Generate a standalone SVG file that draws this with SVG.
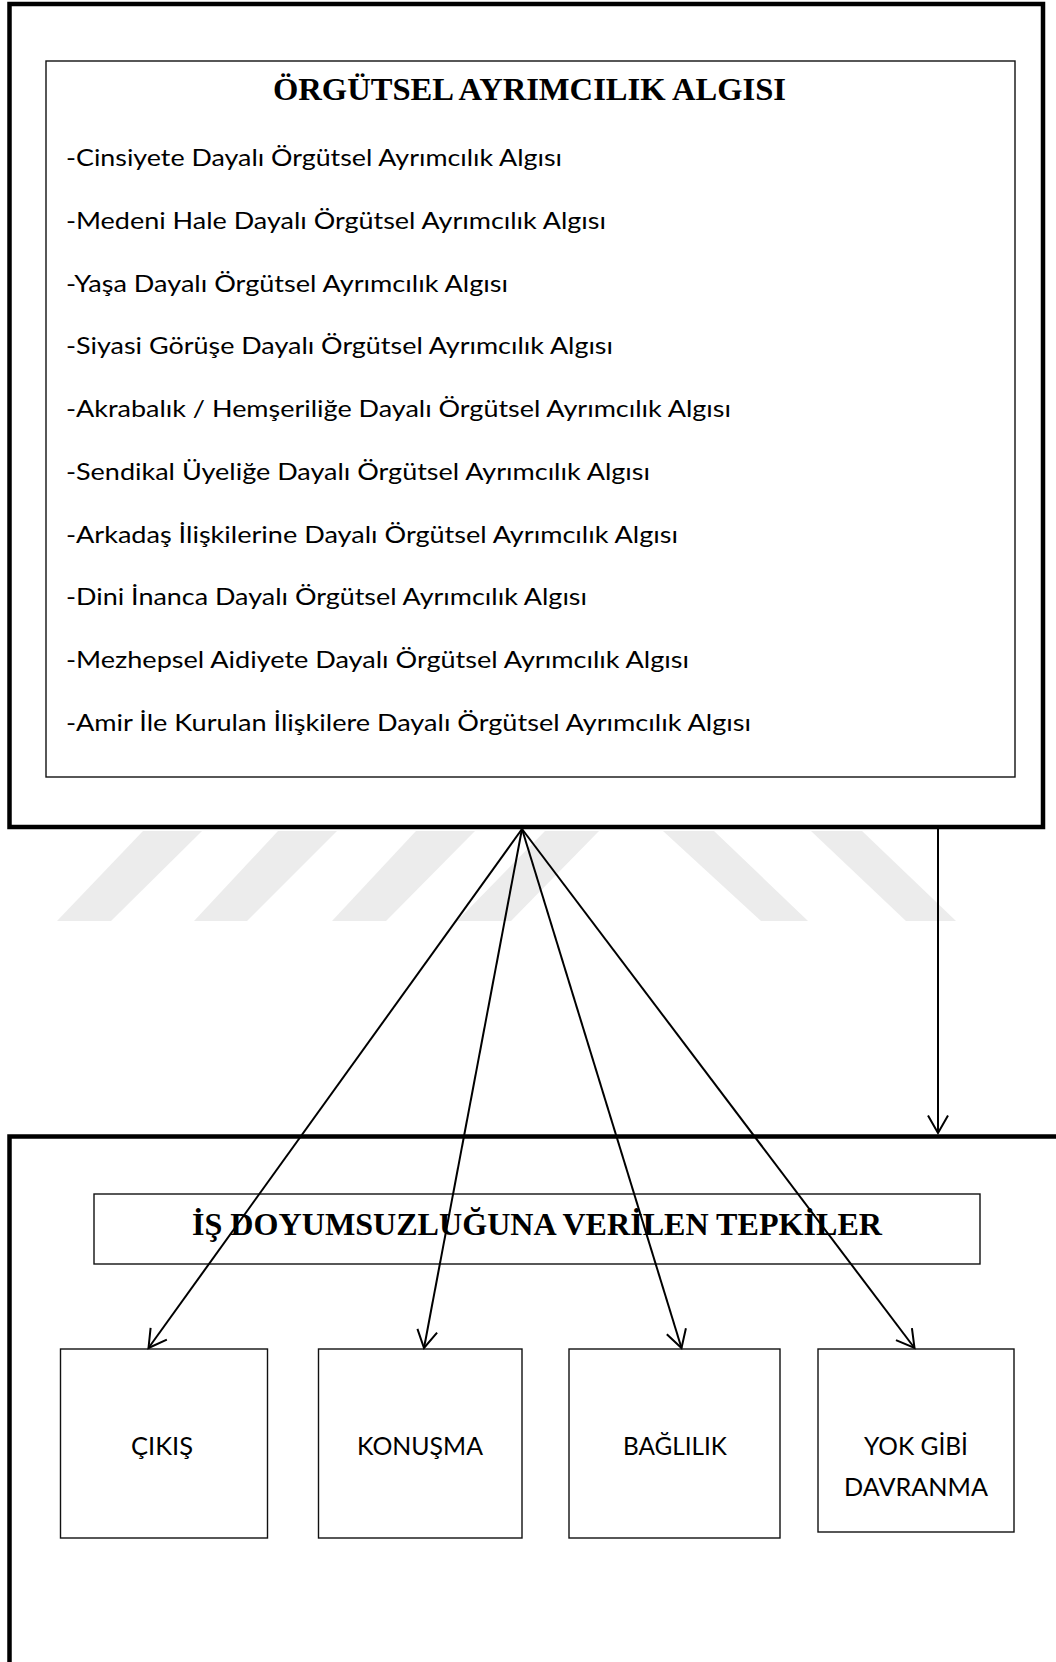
<svg xmlns="http://www.w3.org/2000/svg" width="1056" height="1662" viewBox="0 0 1056 1662">
<style>
.outer{fill:none;stroke:#000;stroke-width:4.5}
.box{fill:#fff;stroke:#111;stroke-width:1.4}
.title{font-family:"Liberation Serif","Times New Roman",serif;font-weight:bold;font-size:32.5px;fill:#000}
.item{font-family:Lato,"Open Sans",sans-serif;font-size:23px;fill:#000}
.lbl{font-family:Lato,"Open Sans",sans-serif;font-size:25px;fill:#000;text-anchor:middle}
.wm{fill:#ececec}
.conn{fill:none;stroke:#000;stroke-width:2}
</style>
<defs>
<marker id="vee" markerUnits="userSpaceOnUse" markerWidth="40" markerHeight="40" refX="0" refY="0" viewBox="-25 -20 40 40" orient="auto" overflow="visible">
<path d="M-17.5,-10 L0,0 L-17.5,10" fill="none" stroke="#000" stroke-width="2"/>
</marker>
</defs>
<rect width="1056" height="1662" fill="#fff"/>
<g id="watermark">
<polygon class="wm" points="143,831 202,831 111,921 57,921"/>
<polygon class="wm" points="278,831 337,831 247,921 194,921"/>
<polygon class="wm" points="416,831 475,831 386,921 332,921"/>
<polygon class="wm" points="545,831 599,831 511,921 457,921"/>
<polygon class="wm" points="663,831 714,831 808,921 761,921"/>
<polygon class="wm" points="811,831 862,831 956,921 906,921"/>
</g>
<g id="node-orgutsel">
<rect class="outer" x="9.5" y="4" width="1033.5" height="823"/>
<rect class="box" x="46" y="61" width="969" height="716"/>
<text class="title" x="273" y="100" textLength="513" lengthAdjust="spacingAndGlyphs">ÖRGÜTSEL AYRIMCILIK ALGISI</text>
<text class="item" x="66" y="166" textLength="496" lengthAdjust="spacingAndGlyphs">-Cinsiyete Dayalı Örgütsel Ayrımcılık Algısı</text>
<text class="item" x="66" y="228.75" textLength="540" lengthAdjust="spacingAndGlyphs">-Medeni Hale Dayalı Örgütsel Ayrımcılık Algısı</text>
<text class="item" x="66" y="291.5" textLength="442" lengthAdjust="spacingAndGlyphs">-Yaşa Dayalı Örgütsel Ayrımcılık Algısı</text>
<text class="item" x="66" y="354.25" textLength="547" lengthAdjust="spacingAndGlyphs">-Siyasi Görüşe Dayalı Örgütsel Ayrımcılık Algısı</text>
<text class="item" x="66" y="417" textLength="665" lengthAdjust="spacingAndGlyphs">-Akrabalık / Hemşeriliğe Dayalı Örgütsel Ayrımcılık Algısı</text>
<text class="item" x="66" y="479.75" textLength="584" lengthAdjust="spacingAndGlyphs">-Sendikal Üyeliğe Dayalı Örgütsel Ayrımcılık Algısı</text>
<text class="item" x="66" y="542.5" textLength="612" lengthAdjust="spacingAndGlyphs">-Arkadaş İlişkilerine Dayalı Örgütsel Ayrımcılık Algısı</text>
<text class="item" x="66" y="605.25" textLength="521" lengthAdjust="spacingAndGlyphs">-Dini İnanca Dayalı Örgütsel Ayrımcılık Algısı</text>
<text class="item" x="66" y="668" textLength="623" lengthAdjust="spacingAndGlyphs">-Mezhepsel Aidiyete Dayalı Örgütsel Ayrımcılık Algısı</text>
<text class="item" x="66" y="730.75" textLength="685" lengthAdjust="spacingAndGlyphs">-Amir İle Kurulan İlişkilere Dayalı Örgütsel Ayrımcılık Algısı</text>
</g>
<g id="node-tepkiler">
<rect class="outer" x="9.5" y="1136.5" width="1060" height="1523"/>
<rect class="box" x="94" y="1194" width="886" height="70"/>
<text class="title" x="192" y="1235" textLength="690" lengthAdjust="spacingAndGlyphs">İŞ DOYUMSUZLUĞUNA VERİLEN TEPKİLER</text>
</g>
<g id="node-cikis">
<rect class="box" x="60.5" y="1349" width="207" height="189"/>
<text class="lbl" x="162" y="1455" textLength="62" lengthAdjust="spacingAndGlyphs">ÇIKIŞ</text>
</g>
<g id="node-konusma">
<rect class="box" x="318.5" y="1349" width="203.5" height="189"/>
<text class="lbl" x="420" y="1455" textLength="126" lengthAdjust="spacingAndGlyphs">KONUŞMA</text>
</g>
<g id="node-baglilik">
<rect class="box" x="569" y="1349" width="211" height="189"/>
<text class="lbl" x="675" y="1455" textLength="104" lengthAdjust="spacingAndGlyphs">BAĞLILIK</text>
</g>
<g id="node-yokgibi">
<rect class="box" x="818" y="1349" width="196" height="183"/>
<text class="lbl" x="916" y="1455" textLength="104" lengthAdjust="spacingAndGlyphs">YOK GİBİ</text>
<text class="lbl" x="916" y="1495.5" textLength="144" lengthAdjust="spacingAndGlyphs">DAVRANMA</text>
</g>
<g id="connectors">
<line class="conn" x1="522" y1="829" x2="148.5" y2="1348" marker-end="url(#vee)"/>
<line class="conn" x1="522" y1="829" x2="424" y2="1348" marker-end="url(#vee)"/>
<line class="conn" x1="522" y1="829" x2="681.5" y2="1348" marker-end="url(#vee)"/>
<line class="conn" x1="522" y1="829" x2="914.5" y2="1348" marker-end="url(#vee)"/>
<line class="conn" x1="938" y1="829" x2="938" y2="1133" marker-end="url(#vee)"/>
</g>
</svg>
